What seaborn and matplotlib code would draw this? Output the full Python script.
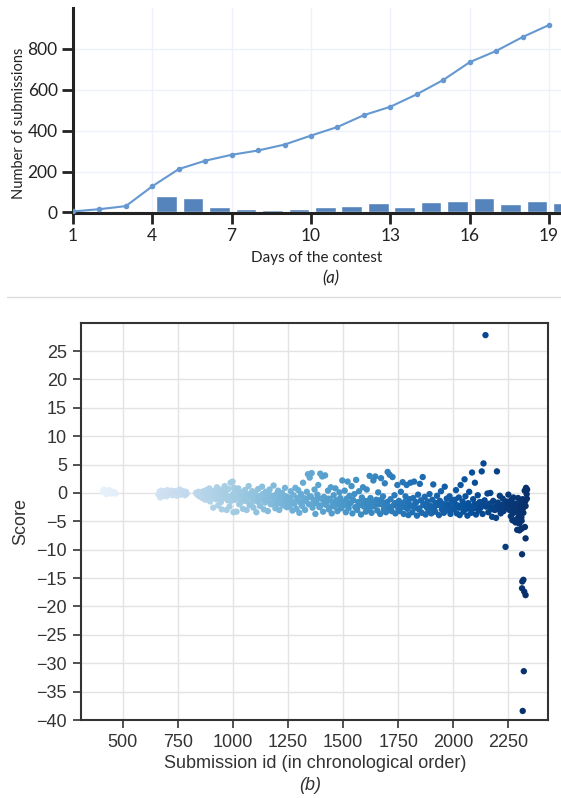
import numpy as np
import pandas as pd
import matplotlib
matplotlib.use("Agg")
import matplotlib.pyplot as plt
import seaborn as sns
from matplotlib.lines import Line2D

# ---------------- data: panel (a) ----------------
days = list(range(1, 20))
cumulative = [5, 16, 31, 128, 212, 253, 282, 303, 332, 376, 418, 476, 517, 578, 648, 735, 790, 858, 917]
daily = [0, 4, 0, 80, 69, 29, 18, 12, 18, 29, 31, 44, 29, 49, 55, 71, 41, 55, 44]
a_yticks = [0, 200, 400, 600, 800]
a_xticks = [1, 4, 7, 10, 13, 16, 19]

# ---------------- data: panel (b) ----------------
ids_a = [408, 413, 417, 421, 425, 429, 433, 437, 441, 446, 451, 456, 461, 467]
score_a = [0.2, 0.6, 0.1, 0.4, -0.2, 0.3, 0.0, 0.5, 0.1, -0.1, 0.2, 0.0, 0.1, -0.1]

ids_b = [662, 666, 670, 674, 678, 682, 686, 690, 694, 698, 702, 706, 710, 714, 718, 722, 726,
         730, 734, 738, 742, 746, 750, 754, 758, 762, 766, 770, 774, 778, 782, 786, 790]
score_b = [-0.3, 0.2, -0.8, 0.4, 0.0, -0.5, 0.3, -0.2, 0.1, -0.6, 0.5, 0.0, -0.3, 0.2, -0.1, 0.4, -0.4,
           0.1, -0.2, 0.3, 0.0, -0.5, 0.2, -0.1, 0.6, -0.3, 0.1, -0.2, 0.3, 0.0, -0.4, 0.2, -0.1]

ids_c = [832, 838, 843, 848, 852, 857, 861, 866, 870, 874, 879, 883, 888, 892, 896, 901, 905, 910, 914, 918,
         923, 927, 932, 936, 940, 945, 949, 954, 958, 962, 967, 971, 976, 980, 984, 989, 993, 998, 1002, 1005,
         885, 899, 912, 925, 938, 951, 964, 977, 990, 1000]
score_c = [0.0, -0.3, 0.2, -0.6, 0.1, -0.2, -0.9, 0.3, -0.4, -1.2, 0.5, -0.1, -0.7, 0.8, -1.5, -0.3, 0.4, -2.6, -0.8, 0.2,
           -1.1, 1.0, -2.2, -0.5, 0.6, -1.6, -2.9, 0.3, -0.9, 1.2, -0.2, -3.0, -1.3, 0.7, -2.4, 1.8, -0.6, 2.0, -3.4, 0.9,
           0.4, 0.0, -0.5, 0.2, -1.0, -0.1, 0.5, -0.7, -1.4, -0.2]

ids_d = [1008, 1012, 1016, 1020, 1024, 1028, 1033, 1037, 1041, 1045, 1050, 1054, 1058, 1062, 1067, 1071, 1075, 1080, 1084,
         1088, 1093, 1097, 1101, 1106, 1110, 1114, 1119, 1123, 1127, 1132, 1136, 1140, 1145, 1149, 1153, 1158, 1162, 1166,
         1171, 1175, 1179, 1184, 1188, 1192, 1197, 1201, 1205, 1210, 1214, 1218, 1223, 1227, 1231, 1236, 1240, 1244, 1249,
         1015, 1030, 1047, 1064, 1082, 1099, 1116, 1134, 1151, 1168, 1186, 1203, 1221, 1238]
score_d = [-1.2, 0.4, -3.3, -0.5, 0.8, -2.0, -0.2, -1.6, 0.1, -2.8, -0.9, 0.5, -1.4, -3.0, -0.3, 1.2, -2.1, -0.7, -1.8,
           0.3, -2.6, -1.0, -0.1, -3.4, -1.5, 0.7, -0.6, -2.3, -1.1, 1.1, -0.4, -2.9, -1.7, 0.2, -0.8, -3.2, -1.3, 0.6,
           -2.0, -0.5, -1.9, 1.3, -1.0, -2.7, -0.2, -1.4, 0.4, -3.0, -0.9, -1.6, 0.0, -2.2, -1.2, 0.9, -0.6, -2.5, -1.8,
           -0.6, -1.0, -0.3, -1.2, 0.0, -0.8, -1.5, -0.2, -1.1, -0.4, -0.7, -1.9, -0.5, -1.3]

ids_e = [1253, 1257, 1262, 1266, 1270, 1275, 1279, 1283, 1288, 1292, 1296, 1301, 1305, 1309, 1314, 1318, 1322, 1327, 1331,
         1335, 1340, 1344, 1348, 1353, 1357, 1361, 1366, 1370, 1374, 1379, 1383, 1387, 1392, 1396, 1400, 1405, 1409, 1413,
         1418, 1422, 1426, 1431, 1435, 1439, 1444, 1448, 1452, 1457, 1461, 1465, 1470, 1474, 1478, 1483, 1487, 1491, 1496, 1500,
         1260, 1277, 1294, 1311, 1329, 1346, 1363, 1381, 1398, 1415, 1433, 1450, 1467, 1485]
score_e = [-0.8, -2.4, 0.3, -1.5, -3.1, -0.4, -1.9, 0.9, -2.8, -1.1, 0.5, -3.5, -1.6, -0.2, -2.3, 1.8, -0.9, -3.0, -1.4,
           0.2, 3.3, -2.0, 2.7, -0.6, 3.5, -2.6, -1.2, 0.6, -3.7, -1.8, -0.3, 1.4, -2.5, 3.4, -1.0, 2.9, -3.3, -0.7,
           3.1, -2.1, -1.5, 0.4, -2.9, -1.1, 1.0, -3.6, -1.7, -0.4, -2.4, 0.8, -1.3, -3.2, -2.0, 0.1, -0.9, -2.7, 2.2, -1.6,
           -1.2, -1.7, -0.9, -2.0, -1.3, -0.7, -1.8, -1.1, -2.2, -1.5, -1.0, -2.3, -1.4, -1.9]

ids_f = [1503, 1507, 1512, 1516, 1520, 1525, 1529, 1533, 1538, 1542, 1546, 1551, 1555, 1559, 1564, 1568, 1572, 1577, 1581,
         1585, 1590, 1594, 1598, 1603, 1607, 1611, 1616, 1620, 1624, 1629, 1633, 1637, 1642, 1646, 1650, 1655, 1659, 1663,
         1668, 1672, 1676, 1681, 1685, 1689, 1694, 1698, 1702, 1707, 1711, 1715, 1720, 1724, 1728, 1733, 1737, 1741, 1746, 1750,
         1510, 1527, 1544, 1561, 1579, 1596, 1613, 1631, 1648, 1665, 1683, 1700, 1717, 1735, 1749]
score_f = [-2.2, 0.4, -3.4, -1.0, 2.0, -2.7, -0.5, -1.8, 1.2, -3.6, -1.3, -0.2, -2.5, 2.3, -3.0, -1.6, 0.3, -2.1, -3.8,
           -0.8, 1.0, -2.4, -1.4, -3.3, 0.6, -1.9, -2.8, 3.0, -0.9, -3.5, -1.7, 2.2, -2.3, 2.9, -1.2, -3.1, 0.1, -2.0,
           -3.7, 2.6, -1.5, -0.6, -2.9, 1.7, -3.4, -1.8, 3.7, -2.6, 3.2, -1.1, -3.2, 2.8, -2.2, -0.4, -3.6, -1.9, 1.4, -2.7,
           -1.5, -2.0, -1.2, -2.6, -1.7, -2.1, -1.4, -2.4, -1.9, -1.3, -2.2, -1.6, -2.5, -1.8, -2.1]

ids_g = [1753, 1757, 1762, 1766, 1770, 1775, 1779, 1783, 1788, 1792, 1796, 1801, 1805, 1809, 1814, 1818, 1822, 1827, 1831,
         1835, 1840, 1844, 1848, 1853, 1857, 1861, 1866, 1870, 1874, 1879, 1883, 1887, 1892, 1896, 1900, 1905, 1909, 1913,
         1918, 1922, 1926, 1931, 1935, 1939, 1944, 1948, 1952, 1957, 1961, 1965, 1970, 1974, 1978, 1983, 1987, 1991, 1996, 2000,
         1760, 1777, 1794, 1812, 1829, 1846, 1864, 1881, 1898, 1916, 1933, 1950, 1968, 1985]
score_g = [-1.4, -3.2, 0.2, -2.4, 1.9, -3.7, -1.6, -0.6, 1.4, -2.8, -3.9, -1.1, 1.8, -2.2, -3.4, -0.9, 2.0, -2.6, -1.7,
           -4.0, -0.3, -2.9, 1.6, -1.3, -3.5, 2.8, -2.0, -0.7, -3.8, -2.5, -1.5, -3.1, -0.2, -2.3, -3.6, -1.2, 1.5, -2.7,
           -3.3, -1.8, -0.5, -2.1, -3.9, -1.4, 0.3, -2.9, -1.9, -3.5, 1.1, -2.4, -1.0, -3.0, -2.2, -0.6, -3.7, -1.6, -2.8, -1.3,
           -2.0, -2.5, -1.8, -2.3, -1.6, -2.7, -2.1, -1.9, -2.6, -2.2, -1.7, -2.4, -2.0, -2.5]

ids_h = [2003, 2007, 2012, 2016, 2020, 2025, 2029, 2033, 2038, 2042, 2046, 2051, 2055, 2059, 2064, 2068, 2072, 2077, 2081,
         2085, 2090, 2094, 2098, 2103, 2107, 2111, 2116, 2120, 2124, 2129, 2133, 2137, 2142, 2146, 2150, 2155, 2159, 2163,
         2168, 2172, 2176, 2181, 2185, 2189, 2194, 2198, 2202, 2207, 2211, 2215, 2220, 2224, 2228, 2233, 2237, 2241, 2246, 2250,
         2010, 2027, 2044, 2061, 2079, 2096, 2113, 2131, 2148, 2165, 2183, 2200, 2217, 2235, 2248]
score_h = [-2.9, -1.2, 0.5, -3.6, -2.2, -0.8, -3.9, 1.4, -2.5, -1.5, -3.3, 2.4, -0.6, -2.8, -4.0, -1.8, 0.2, -2.4, -3.5,
           3.6, -1.1, -2.7, 1.8, -3.8, -2.0, -0.4, -3.1, -1.6, -2.6, 3.8, -3.7, 5.2, -1.3, 27.8, -2.3, -0.1, -3.4, -1.9,
           0.0, -2.8, -4.2, -1.4, -2.5, -3.0, -4.4, 3.8, -1.7, -2.9, -0.5, -3.6, -2.1, -1.0, -3.2, -2.4, -9.5, -1.5, -2.7, -0.3,
           -2.1, -2.6, -1.9, -2.3, -2.8, -2.0, -2.5, -1.7, -2.4, -2.2, -2.9, -2.0, -2.6, -1.8, -2.3]

ids_i = [2252, 2255, 2258, 2261, 2264, 2267, 2270, 2273, 2276, 2279, 2282, 2285, 2288, 2291, 2294, 2297, 2300, 2303,
         2306, 2309, 2312, 2315, 2318, 2321, 2324, 2327, 2330, 2333, 2335,
         2256, 2262, 2268, 2274, 2280, 2286, 2292, 2298, 2304, 2310, 2316, 2322, 2328, 2334,
         2290, 2300, 2310, 2325, 2328, 2312, 2313, 2318, 2312, 2322, 2328, 2320, 2315, 2268, 2283]
score_i = [-1.6, -3.0, -2.2, -4.1, -1.2, -2.7, -3.6, -0.8, -2.4, -5.0, -1.9, -3.3, -4.6, -2.1, -0.9, -3.8, -5.4, -2.6,
           -1.5, -4.3, -2.9, -1.1, -3.5, -2.0, 0.4, -1.4, 0.9, -0.2, 0.6,
           -2.5, -1.9, -3.1, -2.3, -2.8, -2.0, -2.6, -3.2, -2.4, -4.9, -2.7, -1.8, -2.3, -1.0,
           -6.5, -6.6, -6.3, -6.0, -8.0, -10.8, -15.6, -15.3, -16.8, -17.4, -18.0, -31.4, -38.4, -4.8, -5.2]

b_xticks = [500, 750, 1000, 1250, 1500, 1750, 2000, 2250]
b_yticks = [25, 20, 15, 10, 5, 0, -5, -10, -15, -20, -25, -30, -35, -40]

submission_id = ids_a + ids_b + ids_c + ids_d + ids_e + ids_f + ids_g + ids_h + ids_i
score = score_a + score_b + score_c + score_d + score_e + score_f + score_g + score_h + score_i
df_b = pd.DataFrame({"id": submission_id, "score": score}).sort_values("id")
df_a = pd.DataFrame({"day": days, "cum": cumulative, "daily": daily})

# ---------------- figure ----------------
sns.set_theme(style="white")
fig = plt.figure(figsize=(5.61, 7.98), dpi=100)

# ---- panel (a)
axa = fig.add_axes([0.130, 0.733, 0.870, 0.257])
dark = "#222222"
df_a["bar_pos"] = df_a["day"] + 0.54
sns.barplot(data=df_a, x="bar_pos", y="daily", native_scale=True, width=0.78,
            color="#5583bb", saturation=1, errorbar=None, ax=axa, zorder=2)
sns.lineplot(data=df_a, x="day", y="cum", ax=axa, color="#6598d1", linewidth=1.5,
             marker="o", markersize=4, markeredgewidth=0, zorder=3)
axa.set_xlim(1, 19.45)
axa.set_ylim(-3, 1000)
axa.set_xticks(a_xticks)
axa.set_xticklabels([str(t) for t in a_xticks])
axa.set_yticks(a_yticks)
axa.set_yticklabels([str(t) for t in a_yticks])
axa.grid(True, color="#eef0fa", linewidth=1.0)
axa.set_axisbelow(True)
for s in ["top", "right"]:
    axa.spines[s].set_visible(False)
for s in ["left", "bottom"]:
    axa.spines[s].set_color(dark)
    axa.spines[s].set_linewidth(2.2)
axa.tick_params(axis="both", which="major", direction="out", length=8, width=2,
                color=dark, labelcolor=dark, labelsize=12.5, pad=3, left=True, bottom=True)
for lab in axa.get_xticklabels() + axa.get_yticklabels():
    lab.set_family("Lato")
axa.set_xlabel("Days of the contest", family="Lato", fontsize=11, color=dark, labelpad=5)
axa.set_ylabel("Number of submissions", family="Lato", fontsize=10.5, color=dark)
# label's right edge at about x=26 px, centred at y=123 px of the figure
axa.yaxis.set_label_coords((26 - 73) / 487.0, (213 - 123) / 205.0)
fig.text(0.59, 1 - 278 / 798, "(a)", family="Lato", style="italic", fontsize=12,
         color=dark, ha="center", va="center")

# separator line
fig.add_artist(Line2D([7 / 561, 1.0], [1 - 297 / 798, 1 - 297 / 798], transform=fig.transFigure,
                      color="#dcdcdc", linewidth=1))

# ---- panel (b)
axb = fig.add_axes([0.1444, 0.0977, 0.8333, 0.498])
sns.scatterplot(data=df_b, x="id", y="score", hue="id", palette="Blues", hue_norm=(250, 2335),
                s=21, linewidth=0, legend=False, ax=axb, zorder=3)
axb.set_xlim(310, 2432)
axb.set_ylim(-40, 30)
axb.set_xticks(b_xticks)
axb.set_xticklabels([str(t) for t in b_xticks])
axb.set_yticks(b_yticks)
axb.set_yticklabels([str(t).replace("-", "\u2212") for t in b_yticks])
axb.grid(True, color="#e3e3e3", linewidth=1.0)
axb.set_axisbelow(True)
gray = "#333333"
for s in axb.spines.values():
    s.set_color(gray)
    s.set_linewidth(1.5)
axb.tick_params(axis="both", which="major", direction="out", length=6, width=1.2,
                color=gray, labelcolor=gray, labelsize=13, pad=4, left=True, bottom=True)
for lab in axb.get_xticklabels() + axb.get_yticklabels():
    lab.set_family("Liberation Sans")
axb.set_xlabel("Submission id (in chronological order)", family="Liberation Sans",
               fontsize=13, color=gray, labelpad=3)
axb.set_ylabel("Score", family="Liberation Sans", fontsize=13, color=gray)
axb.yaxis.set_label_coords((29 - 81) / 467.5, 0.5)
fig.text(310 / 561, 1 - 786 / 798, "(b)", family="Liberation Sans", style="italic",
         fontsize=13, color=gray, ha="center", va="center")

fig.savefig("out.png", dpi=100)
